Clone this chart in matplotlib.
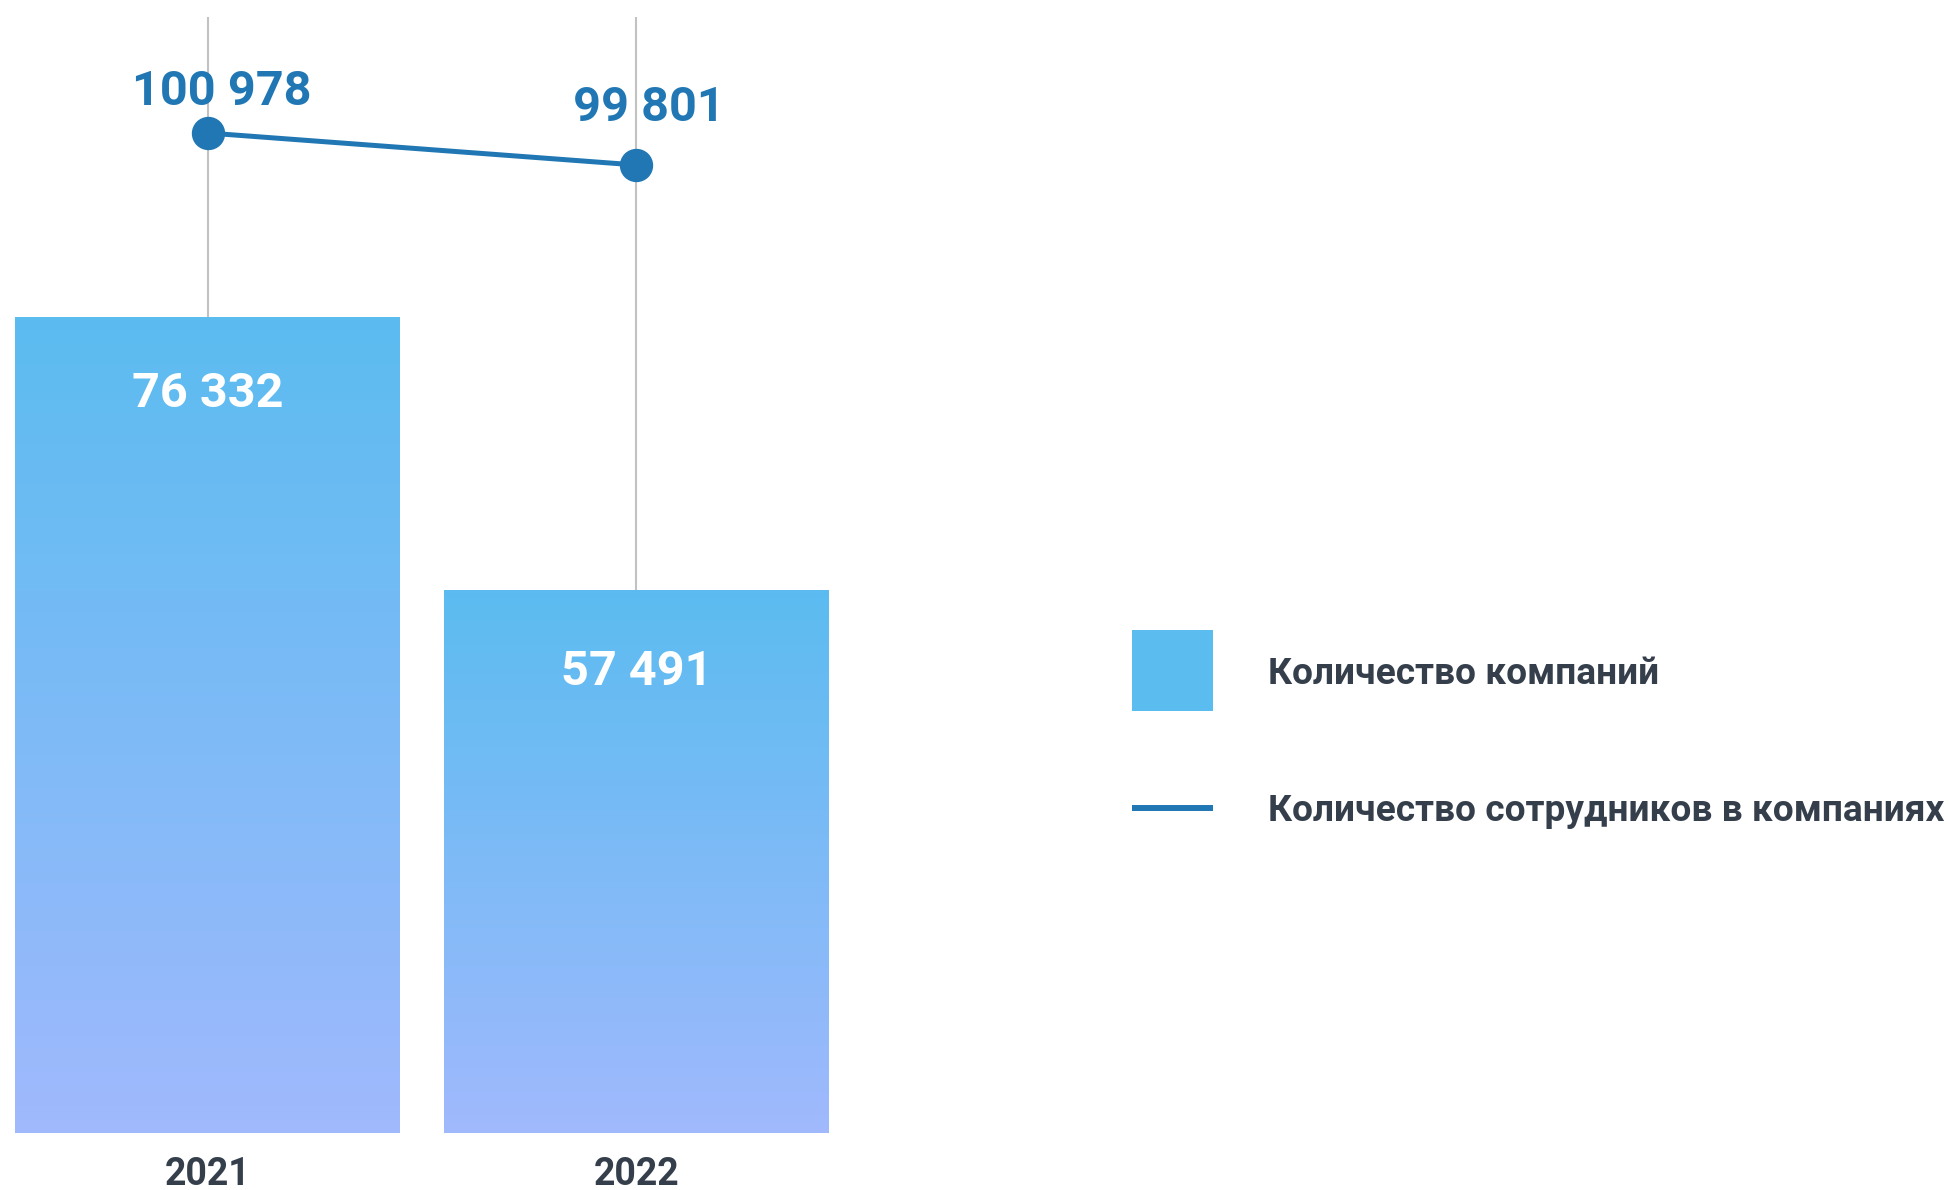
import matplotlib
matplotlib.use("Agg")
import matplotlib.pyplot as plt
import numpy as np
from matplotlib.patches import Rectangle
from matplotlib.lines import Line2D
from matplotlib.colors import LinearSegmentedColormap

# ---- data ----
years = ["2021", "2022"]
companies = [76332, 57491]
employees = [100978, 99801]
companies_labels = ["76 332", "57 491"]
employees_labels = ["100 978", "99 801"]
legend_labels = ["Количество компаний", "Количество сотрудников в компаниях"]

# ---- style ----
plt.rcParams['font.family'] = ['Roboto', 'DejaVu Sans']
plt.rcParams['font.weight'] = 'bold'
LINE_C = "#2077b4"
TEXT_C = "#343f4b"
TOP_C = "#5bbcf0"
BOT_C = "#a0b9fd"
GRID_C = "#c2c2c2"

W, H = 1950, 1190
fig = plt.figure(figsize=(W / 100, H / 100), dpi=100)

ax_top_px, ax_bot_px = 17, 1133
ax_left_px, ax_right_px = 0, 850
ax = fig.add_axes([ax_left_px / W, (H - ax_bot_px) / H,
                   (ax_right_px - ax_left_px) / W, (ax_bot_px - ax_top_px) / H])

x = np.arange(len(years))
bar_w = 0.897
ax.set_xlim(-0.484, 1.498)
ax.set_ylim(20000, 97019)

cmap = LinearSegmentedColormap.from_list("g", [BOT_C, TOP_C])
bars = ax.bar(x, companies, width=bar_w, color=TOP_C, zorder=2)
grad = np.linspace(0, 1, 256).reshape(-1, 1)
for b in bars:
    x0, y0 = b.get_x(), ax.get_ylim()[0]
    x1, y1 = x0 + b.get_width(), b.get_height()
    im = ax.imshow(grad, extent=[x0, x1, y0, y1], origin="lower", cmap=cmap,
                   aspect="auto", zorder=2.1, interpolation="bicubic")
    im.set_clip_path(b)
ax.set_xlim(-0.484, 1.498)
ax.set_ylim(20000, 97019)

bar_label_offsets = [-55.7, -59.1]
for xi, v, lab, off in zip(x, companies, companies_labels, bar_label_offsets):
    ax.annotate(lab, (xi, v), xytext=(0, off), textcoords="offset points",
                ha="center", va="center", color="white", fontsize=35,
                fontweight="bold", zorder=5)

ax.set_xticks(x)
ax.set_xticklabels(years, fontsize=27, fontweight="bold", color=TEXT_C)
ax.tick_params(axis="x", length=0, pad=16.5)
ax.set_yticks([])
ax.xaxis.grid(True, color=GRID_C, linewidth=1.5)
ax.set_axisbelow(True)
for s in ax.spines.values():
    s.set_visible(False)

ax2 = ax.twinx()
ax2.set_ylim(64200, 105244)
ax2.plot(x, employees, color=LINE_C, linewidth=3.6, marker="o", markersize=23,
         zorder=4)
offsets = [(10.2, 29.5), (8.8, 41.0)]
for xi, v, lab, off in zip(x, employees, employees_labels, offsets):
    ax2.annotate(lab, (xi, v), xytext=off, textcoords="offset points",
                 ha="center", va="center", color=LINE_C, fontsize=35,
                 fontweight="bold")
ax2.set_yticks([])
for s in ax2.spines.values():
    s.set_visible(False)

# ---- legend (drawn in figure pixel coordinates) ----
def fx(px):
    return px / W

def fy(py):
    return (H - py) / H

fig.add_artist(Rectangle((fx(1132), fy(711)), fx(1213) - fx(1132),
                         fy(630) - fy(711), transform=fig.transFigure,
                         facecolor=TOP_C, edgecolor="none"))
fig.add_artist(Line2D([fx(1132), fx(1213)], [fy(808), fy(808)],
                      transform=fig.transFigure, color=LINE_C, linewidth=4.3,
                      solid_capstyle="butt"))
for lab, base in zip(legend_labels, [684.5, 821]):
    fig.text(fx(1268), fy(base), lab, ha="left", va="baseline",
             fontsize=26.7, fontweight="bold", color=TEXT_C)

fig.savefig("out.png", dpi=100)
